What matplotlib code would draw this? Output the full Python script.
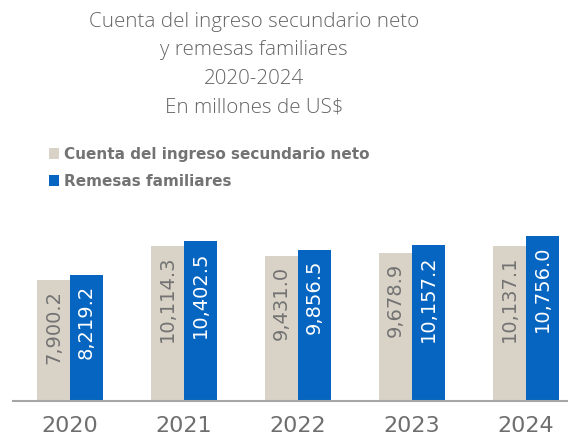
import matplotlib.pyplot as plt
import numpy as np

years = ['2020', '2021', '2022', '2023', '2024']
ingreso = [7900.2, 10114.3, 9431.0, 9678.9, 10137.1]
remesas = [8219.2, 10402.5, 9856.5, 10157.2, 10756.0]
series_names = ['Cuenta del ingreso secundario neto', 'Remesas familiares']

gray = '#d8d2c7'
blue = '#0565c0'
txt = '#737373'

fig = plt.figure(figsize=(5.68, 4.38), dpi=100)
ax = fig.add_axes([13/568, 37/438, 555/568, 181/438])

x = np.arange(len(years))
w = 0.29
b1 = ax.bar(x - w/2, ingreso, w, color=gray, label=series_names[0])
b2 = ax.bar(x + w/2, remesas, w, color=blue, label=series_names[1])

# etiquetas dentro de las barras
for xi, v in zip(x, ingreso):
    ax.annotate(f'{v:,.1f}', (xi - w/2, v), xytext=(0, -7), textcoords='offset points',
                rotation=90, ha='center', va='top', fontsize=14, color=txt)
for xi, v in zip(x, remesas):
    ax.annotate(f'{v:,.1f}', (xi + w/2, v), xytext=(0, -7), textcoords='offset points',
                rotation=90, ha='center', va='top', fontsize=14, color='white')

ax.set_xlim(-0.5, 4.37)
ax.set_ylim(0, 11800)
for s in ['top', 'right', 'left']:
    ax.spines[s].set_visible(False)
ax.spines['bottom'].set_color('#a6a6a6')
ax.spines['bottom'].set_linewidth(1.5)
ax.set_yticks([])
ax.set_xticks(x)
ax.set_xticklabels(years, fontsize=16, color='#6e6e6e')
ax.tick_params(axis='x', length=0, pad=11)

title = ['Cuenta del ingreso secundario neto', 'y remesas familiares', '2020-2024', 'En millones de US$']
for i, line in enumerate(title):
    fig.text(254/568, 1 - (22 + 28.5*i)/438, line, ha='center', va='center',
             fontsize=14.8, color='#656565', family='Open Sans', fontweight=300)

fig.legend(handles=[b1, b2], loc='upper left', bbox_to_anchor=(35/568, 1 - 133/438),
           frameon=False, handlelength=0.7, handleheight=0.7, handletextpad=0.3,
           labelspacing=0.8, prop={'size': 11, 'weight': 'bold'}, labelcolor=txt)

fig.savefig('out.png', dpi=100)
